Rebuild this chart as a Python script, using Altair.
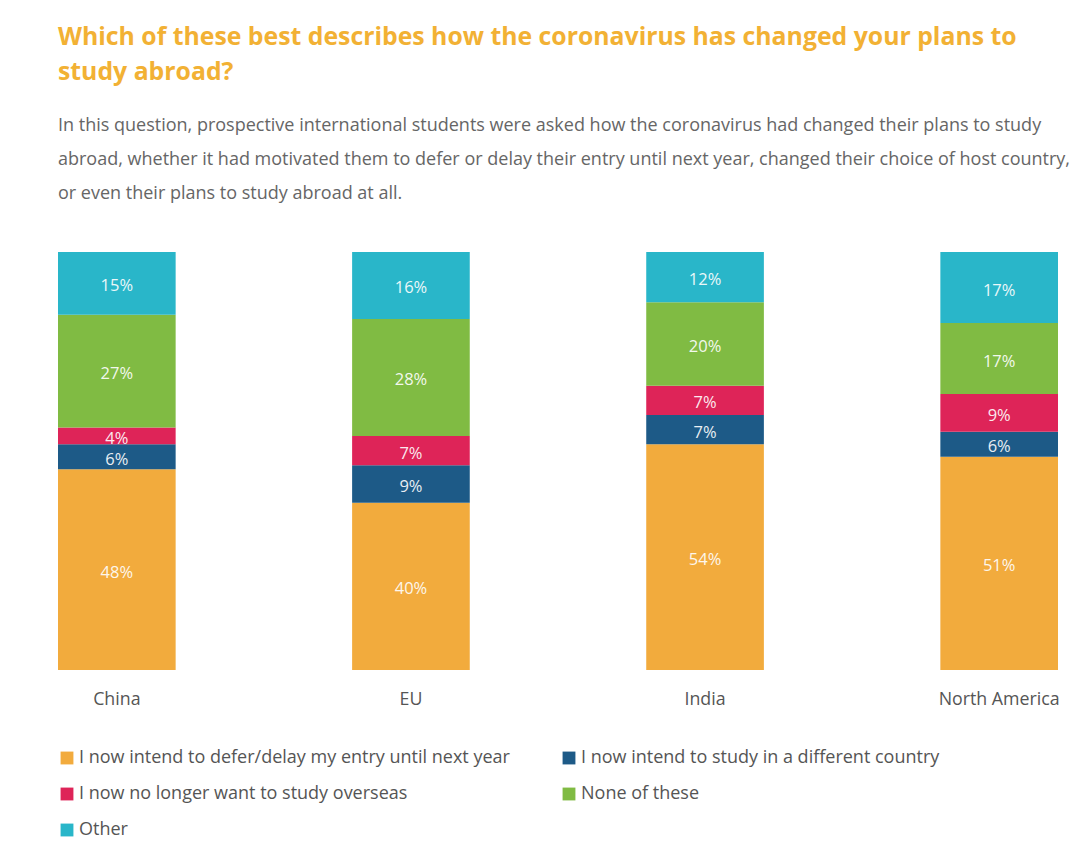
import altair as alt
import pandas as pd

regions = ["China", "EU", "India", "North America"]
responses = [
    "I now intend to defer/delay my entry until next year",
    "I now intend to study in a different country",
    "I now no longer want to study overseas",
    "None of these",
    "Other",
]
colors = ["#F2AB3D", "#1D5A87", "#DE2458", "#80BB43", "#29B6C9"]
china = [48, 6, 4, 27, 15]
eu = [40, 9, 7, 28, 16]
india = [54, 7, 7, 20, 12]
north_america = [51, 6, 9, 17, 17]

title_lines = [
    "Which of these best describes how the coronavirus has changed your plans to",
    "study abroad?",
]
subtitle_lines = [
    "In this question, prospective international students were asked how the coronavirus had changed their plans to study",
    "abroad, whether it had motivated them to defer or delay their entry until next year, changed their choice of host country,",
    "or even their plans to study abroad at all.",
]

rows = []
for region, vals in zip(regions, [china, eu, india, north_america]):
    for i, (resp, v) in enumerate(zip(responses, vals)):
        rows.append({"region": region, "response": resp, "order": i, "value": v})
df = pd.DataFrame(rows)

FONT = "Open Sans"

base = alt.Chart(df).transform_stack(
    stack="value",
    groupby=["region"],
    as_=["y0", "y1"],
    sort=[alt.SortField("order", order="ascending")],
).transform_calculate(
    ymid="(datum.y0 + datum.y1) / 2",
    label="datum.value + '%'",
)

x_enc = alt.X(
    "region:N",
    sort=regions,
    scale=alt.Scale(paddingInner=0.6, paddingOuter=0),
    axis=alt.Axis(
        title=None,
        labelAngle=0,
        domain=False,
        ticks=False,
        labelFontSize=17.8,
        labelColor="#555555",
        labelPadding=20,
        labelFont=FONT,
    ),
)

bars = base.mark_bar().encode(
    x=x_enc,
    y=alt.Y("y0:Q", scale=alt.Scale(domain=[0, 100]), axis=None),
    y2="y1:Q",
    color=alt.Color(
        "response:N",
        sort=responses,
        scale=alt.Scale(domain=responses, range=colors),
        legend=alt.Legend(
            title=None,
            orient="none",
            legendX=0,
            legendY=497,
            direction="horizontal",
            columns=2,
            symbolType="square",
            symbolSize=165,
            symbolStrokeWidth=0,
            labelFontSize=18,
            labelColor="#555555",
            labelFont=FONT,
            labelLimit=0,
            labelOffset=3,
            rowPadding=18,
            columnPadding=50,
        ),
    ),
)

labels = base.mark_text(color="white", fontSize=16.5, font=FONT, opacity=0.9, dy=3).encode(
    x=alt.X("region:N", sort=regions),
    y=alt.Y("ymid:Q"),
    text="label:N",
)

chart = (
    alt.layer(bars, labels)
    .properties(
        width=1000,
        height=418,
        autosize=alt.AutoSizeParams(type="none"),
        padding={"left": 50, "top": 244, "right": 14, "bottom": 170},
        title=alt.TitleParams(
            text=title_lines,
            subtitle=subtitle_lines,
            anchor="start",
            frame="group",
            font=FONT,
            fontSize=24.8,
            fontWeight="bold",
            color="#F2B134",
            lineHeight=35,
            subtitleFont=FONT,
            subtitleFontSize=18,
            subtitleColor="#666666",
            subtitleLineHeight=34,
            subtitlePadding=32,
            offset=49,
        ),
    )
    .configure_view(stroke=None)
)

chart.save("out.html", embed_options={"renderer": "svg", "actions": False})
